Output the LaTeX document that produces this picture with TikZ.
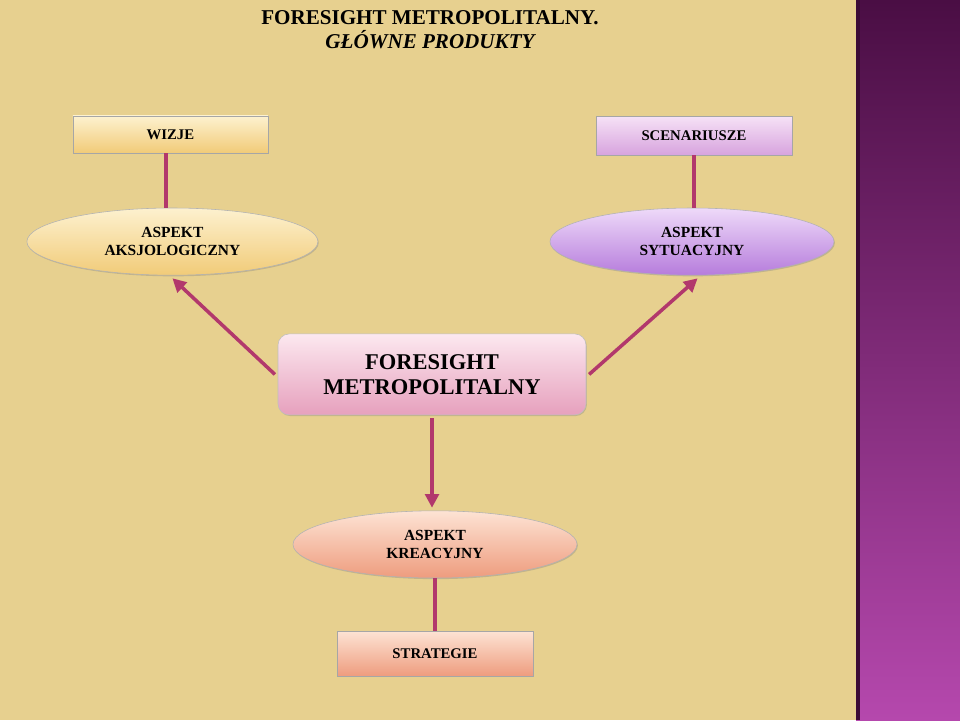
\documentclass[tikz,border=0pt]{standalone}
\usepackage{fontspec}
\setmainfont{Liberation Serif}
\usetikzlibrary{arrows.meta,positioning,shapes.geometric,shadows}
\definecolor{ProdPaper}{HTML}{E7D08F}
\definecolor{ProdLine}{HTML}{B2386C}
\definecolor{ProdBandTop}{HTML}{4A0E44}
\definecolor{ProdBandBot}{HTML}{B548AD}
\definecolor{ProdGoldHi}{HTML}{FDF1CF}
\definecolor{ProdGold}{HTML}{F1CB78}
\definecolor{ProdLilacHi}{HTML}{F6E2F6}
\definecolor{ProdLilac}{HTML}{D7A3DE}
\definecolor{ProdVioletHi}{HTML}{EEDAF9}
\definecolor{ProdViolet}{HTML}{B67CDC}
\definecolor{ProdPinkHi}{HTML}{FCE8EF}
\definecolor{ProdPink}{HTML}{E6A0BD}
\definecolor{ProdSalmonHi}{HTML}{FDE3D4}
\definecolor{ProdSalmon}{HTML}{EE9C7E}

\begin{document}
\begin{tikzpicture}[
    box/.style={
      rectangle,
      minimum width=4.9cm,
      minimum height=0.95cm,
      align=center,
      font=\fontsize{10.5}{12}\selectfont\bfseries,
      draw=black!35,
      line width=0.4pt,
      drop shadow={opacity=0.35,shadow xshift=0.6pt,shadow yshift=-0.8pt}
    },
    oval/.style={
      ellipse,
      minimum width=7.1cm,
      minimum height=1.68cm,
      align=center,
      font=\fontsize{11}{12.5}\selectfont\bfseries,
      draw=black!30,
      line width=0.4pt,
      drop shadow={opacity=0.35,shadow xshift=0.6pt,shadow yshift=-0.8pt}
    },
    conn/.style={line width=3pt, draw=ProdLine},
    arrow/.style={
      -{Triangle[length=3.4mm,width=3.4mm]},
      line width=2.5pt,
      draw=ProdLine
    }]

    % paper and purple side band
    \useasboundingbox (0,0) rectangle (24,-18);
    \fill[ProdPaper] (0,0) rectangle (21.4,-18);
    \shade[top color=ProdBandTop,bottom color=ProdBandBot] (21.4,0) rectangle (24,-18);
    \fill[ProdBandTop!80!black] (21.4,0) rectangle (21.5,-18);

    % title
    \node[align=center, font=\fontsize{15}{17}\selectfont\bfseries] (title) at (10.75,-0.75)
      {FORESIGHT METROPOLITALNY.\\\itshape GŁÓWNE PRODUKTY};

    % products (top and bottom boxes)
    \node[box, minimum width=4.875cm, minimum height=0.925cm,
      top color=ProdGoldHi, bottom color=ProdGold] (wizje) at (4.26,-3.36) {WIZJE};
    \node[box, minimum height=0.975cm,
      top color=ProdLilacHi, bottom color=ProdLilac] (scen) at (17.35,-3.39) {SCENARIUSZE};
    \node[box, minimum height=1.125cm,
      top color=ProdSalmonHi, bottom color=ProdSalmon] (strat) at (10.875,-16.34) {STRATEGIE};

    % aspects
    \node[oval, minimum width=7.275cm,
      top color=ProdGoldHi, bottom color=ProdGold] (aksj) at (4.31,-6.04) {ASPEKT\\AKSJOLOGICZNY};
    \node[oval,
      top color=ProdVioletHi, bottom color=ProdViolet] (syt) at (17.3,-6.04) {ASPEKT\\SYTUACYJNY};
    \node[oval,
      top color=ProdSalmonHi, bottom color=ProdSalmon] (kreac) at (10.875,-13.61) {ASPEKT\\KREACYJNY};

    % central node
    \node[rectangle, rounded corners=8pt, minimum width=7.7cm, minimum height=2.025cm,
      align=center, font=\fontsize{16}{18}\selectfont\bfseries, draw=black!25,
      top color=ProdPinkHi, bottom color=ProdPink,
      drop shadow={opacity=0.35,shadow xshift=0.6pt,shadow yshift=-0.8pt}] (center) at (10.8,-9.36)
      {FORESIGHT\\METROPOLITALNY};

    % connectors
    \draw[conn] ([xshift=-3pt]wizje.south) -- ([xshift=-3pt]wizje.south |- aksj.north);
    \draw[conn] (scen.south) -- (scen.south |- syt.north);
    \draw[conn] (kreac.south) -- (kreac.south |- strat.north);
    \draw[arrow] ([xshift=-2pt]center.west) -- ([yshift=-2pt]aksj.south);
    \draw[arrow] ([xshift=2pt]center.east) -- ([xshift=4pt,yshift=-2pt]syt.south);
    \draw[arrow] ([yshift=-2pt]center.south) -- ([yshift=2pt]center.south |- kreac.north);
  \end{tikzpicture}
\end{document}
